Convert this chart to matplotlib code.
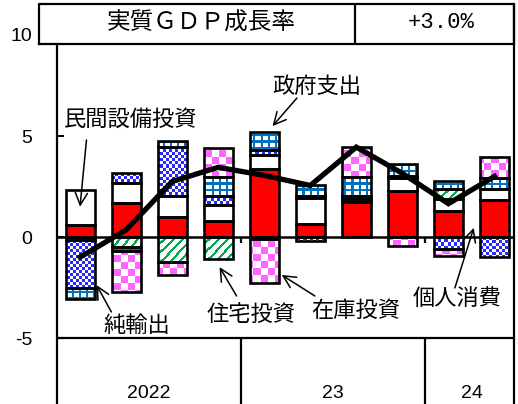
import numpy as np
import matplotlib
matplotlib.use("Agg")
import matplotlib.pyplot as plt

plt.rcParams['font.family'] = ['Noto Sans CJK JP', 'DejaVu Sans']

# Contributions to real GDP growth (quarterly, annualised), 2022 Q1 - 2024 Q2
quarters = np.arange(10)
consumption = [0.58, 1.68, 1.00, 0.80, 3.35, 0.63, 1.73, 2.30, 1.30, 1.85]
capex = [1.75, 0.97, 1.02, 0.78, 0.70, 1.28, 0.15, 0.62, 0.60, 0.55]
housing = [-0.15, -0.50, -1.25, -1.10, -0.10, 0.12, 0.15, 0.08, 0.50, 0.0]
net_exports = [-2.35, 0.50, 2.45, 0.45, 0.25, -0.18, 0.0, 0.0, -0.60, -0.98]
government = [-0.55, -0.20, 0.30, 0.95, 0.90, 0.55, 0.95, 0.60, 0.35, 0.50]
inventory = [0.0, -2.00, -0.65, 1.42, -2.20, 0.0, 1.50, -0.46, -0.36, 1.05]
gdp = [-1.0, 0.35, 2.75, 3.45, 3.05, 2.55, 4.45, 3.15, 1.65, 3.0]

years = ['2022', '23', '24']
year_centers = [1.5, 5.5, 8.5]
header_title = '実質ＧＤＰ成長率'
header_value = '+3.0%'

# figure: 518x404 px, axes mapped so that 1 unit = 20.2 px vertically
W, H = 518, 404
fig = plt.figure(figsize=(W / 100, H / 100), dpi=100)
ax_w, ax_h = 457, 401
ax = fig.add_axes([57 / W, 0, ax_w / W, ax_h / H])
x0, x1 = -0.5, 9.424
y0, y1 = -8.267, 11.584

# fill patterns, one pixel per array cell
ii, jj = np.mgrid[0:ax_h, 0:ax_w]

def pattern(mask, rgb):
    img = np.ones((ax_h, ax_w, 3))
    img[mask] = np.array(rgb) / 255.0
    return img

magenta_check = pattern(((ii // 7) + (jj // 7)) % 2 == 0, (255, 102, 255))
blue_check = pattern(((ii // 3) + (jj // 3)) % 2 == 0, (40, 40, 255))
green_stripe = pattern((ii + jj) % 9 < 3, (0, 170, 80))
blue_grid = pattern((ii % 6 < 2) | (jj % 7 < 2), (0, 112, 192))

series = [
    (consumption, '#FF0000', None),
    (capex, 'white', None),
    (housing, 'white', green_stripe),
    (net_exports, 'white', blue_check),
    (government, 'white', blue_grid),
    (inventory, 'white', magenta_check),
]

width = 0.63
pos_base = np.zeros(10)
neg_base = np.zeros(10)
for values, face, img in series:
    v = np.array(values, dtype=float)
    bottom = np.where(v >= 0, pos_base, neg_base)
    keep = v != 0
    bars = ax.bar(quarters[keep], v[keep], width, bottom=bottom[keep],
                  color=face, linewidth=0, zorder=2)
    if img is not None:
        for patch in bars:
            im = ax.imshow(img, extent=[x0, x1, y0, y1], origin='upper',
                           interpolation='nearest', aspect='auto', zorder=2.2)
            im.set_clip_path(patch)
    ax.bar(quarters[keep], v[keep], width, bottom=bottom[keep], fill=False,
           edgecolor='black', linewidth=1.9, zorder=3)
    pos_base = pos_base + np.where(v > 0, v, 0)
    neg_base = neg_base + np.where(v < 0, v, 0)

ax.plot(quarters, gdp, color='black', linewidth=3.8, zorder=5,
        solid_joinstyle='miter')

# frame, zero line and table lines
lw = 1.6
ax.axhline(0, color='black', linewidth=1.8, zorder=4)
ax.axhline(-5, color='black', linewidth=lw, zorder=4)
ax.vlines(x0, y0, 9.55, color='black', linewidth=lw, clip_on=False, zorder=4)
ax.vlines(x1, y0, y1, color='black', linewidth=lw, clip_on=False, zorder=4)
ax.vlines([3.5, 7.5], y0, -5, color='black', linewidth=lw, zorder=4)
ax.vlines([3.5, 7.5], -0.3, 0, color='black', linewidth=lw, zorder=4)

# header table
hx0 = -0.9
ax.plot([hx0, x1, x1, hx0, hx0], [9.55, 9.55, 11.55, 11.55, 9.55],
        color='black', linewidth=lw, clip_on=False, zorder=4)
ax.vlines(5.97, 9.55, 11.55, color='black', linewidth=lw, clip_on=False)
ax.text((hx0 + 5.97) / 2 + 0.1, 10.6, header_title, ha='center', va='center',
        fontsize=17)
ax.text((5.97 + x1) / 2 + 0.15, 10.6, header_value, ha='center', va='center',
        fontsize=16, family=['Liberation Mono', 'DejaVu Sans Mono'])

for label, xc in zip(years, year_centers):
    ax.text(xc, -7.75, label, ha='center', va='center', fontsize=14,
            family=['Liberation Sans', 'DejaVu Sans'])

# annotations
arrow = dict(arrowstyle='->', color='black', lw=1.1, mutation_scale=22,
             shrinkA=0, shrinkB=0)
labels = [
    ('民間設備投資', (1.10, 5.84), (0.14, 4.80), (0.0, 1.50)),
    ('政府支出', (5.14, 7.43), (4.71, 6.88), (4.18, 5.49)),
    ('純輸出', (1.23, -4.36), (0.68, -3.71), (0.36, -2.38)),
    ('住宅投資', (3.71, -3.86), (3.40, -2.92), (3.03, -1.49)),
    ('在庫投資', (5.99, -3.66), (5.10, -2.92), (4.38, -1.88)),
    ('個人消費', (8.18, -3.02), (8.14, -2.52), (8.55, 0.45)),
]
for text, tpos, tail, head in labels:
    ax.text(tpos[0], tpos[1], text, ha='center', va='center', fontsize=16,
            zorder=6)
    ax.annotate('', xy=head, xytext=tail, arrowprops=arrow, zorder=6)

ax.set_xlim(x0, x1)
ax.set_ylim(y0, y1)
for s in ax.spines.values():
    s.set_visible(False)
ax.set_xticks([])
ax.set_yticks([10, 5, 0, -5])
ax.set_yticklabels(['10', '5', '0', '-5'], family=['Liberation Sans', 'DejaVu Sans'],
                   fontsize=14)
ax.tick_params(axis='y', direction='in', length=5, width=1.5, pad=18)
ax.yaxis.get_major_ticks()[0].tick1line.set_visible(False)

fig.savefig('out.png', dpi=100)
